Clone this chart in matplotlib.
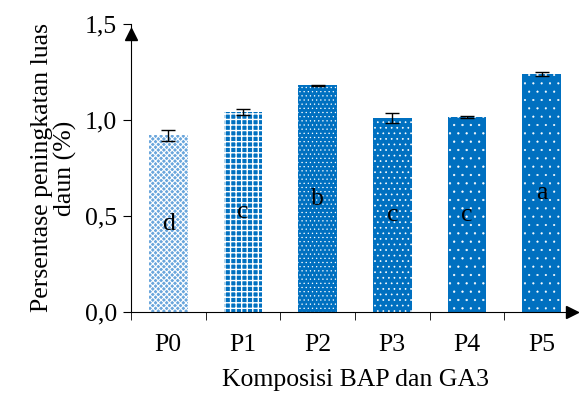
import matplotlib
matplotlib.use('Agg')
import matplotlib.pyplot as plt

# data
categories = ['P0', 'P1', 'P2', 'P3', 'P4', 'P5']
values = [0.92, 1.04, 1.18, 1.01, 1.015, 1.24]
errors = [0.03, 0.015, 0.004, 0.025, 0.006, 0.01]
letters = ['d', 'c', 'b', 'c', 'c', 'a']
yticks = [0.0, 0.5, 1.0, 1.5]
ytick_labels = ['0,0', '0,5', '1,0', '1,5']

BLUE = '#0070C0'
faces = ['#6aa6dc', BLUE, BLUE, BLUE, BLUE, BLUE]
hatches = ['xxxxxx', '+++', '....', '...', '..', '..']
hatch_lw = [0.8, 1.0, 0.4, 0.5, 0.4, 0.3]

plt.rcParams['font.family'] = ['Liberation Serif', 'DejaVu Serif']
FS = 18.5

fig = plt.figure(figsize=(5.79, 3.94), dpi=100)
W, H = 579, 394
ax = fig.add_axes([131 / W, (H - 312) / H, (579 - 131) / W, (312 - 24) / H])

x = list(range(len(categories)))
for i in x:
    with plt.rc_context({'hatch.linewidth': hatch_lw[i]}):
        ax.bar(i, values[i], width=0.52, color=faces[i], edgecolor='white',
               linewidth=0, hatch=hatches[i], zorder=2)
ax.errorbar(x, values, yerr=errors, fmt='none', ecolor='black',
            elinewidth=1, capsize=5, capthick=1, zorder=3)

for i in x:
    ax.text(i, values[i] / 2, letters[i], ha='center', va='center',
            fontsize=FS, color='black', zorder=4)

ax.set_xlim(-0.5, 5.5)
ax.set_ylim(0, 1.5)
ax.set_yticks(yticks)
ax.set_yticklabels(ytick_labels, fontsize=FS)
ax.set_xticks(x)
ax.set_xticklabels(categories, fontsize=FS)
ax.set_xticks([i - 0.5 for i in x], minor=True)
ax.tick_params(axis='x', which='major', length=0, pad=16)
ax.tick_params(axis='x', which='minor', length=6, direction='out')
ax.tick_params(axis='y', length=6, direction='out', pad=4)

for s in ['top', 'right']:
    ax.spines[s].set_visible(False)
ax.spines['left'].set_bounds(0, 1.5)

# arrow heads at the ends of both axes
ax.plot([0], [0.965], marker='^', color='black', markersize=9,
        transform=ax.transAxes, clip_on=False)
ax.plot([0.985], [0], marker='>', color='black', markersize=9,
        transform=ax.transAxes, clip_on=False)

ax.set_ylabel('Persentase peningkatan luas\ndaun (%)', fontsize=FS,
              linespacing=1.05, labelpad=6)
ax.set_xlabel('Komposisi BAP dan GA3', fontsize=FS, labelpad=9)

fig.savefig('out.png', dpi=100)
